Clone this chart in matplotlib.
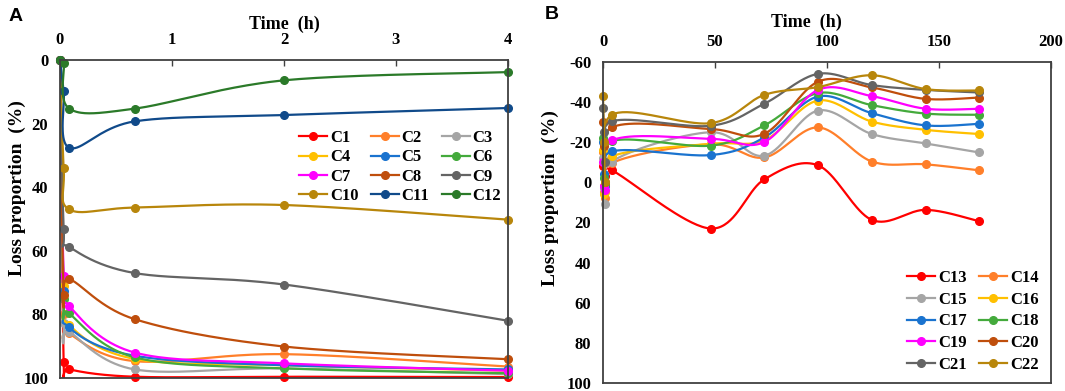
import numpy as np
import matplotlib
matplotlib.use("Agg")
import matplotlib.pyplot as plt
from matplotlib.lines import Line2D

plt.rcParams["axes.unicode_minus"] = False

# Panel A data (time in h, loss proportion in %)
time_a = [0, 0.033, 0.083, 0.667, 2, 4]
names_a = ["C1", "C2", "C3", "C4", "C5", "C6", "C7", "C8", "C9", "C10", "C11", "C12"]
values_a = [
    [0, 94.9, 97.3, 99.6, 99.6, 99.7],
    [0, 80.0, 86.0, 94.7, 92.5, 96.4],
    [0, 82.6, 85.4, 97.3, 97.0, 98.8],
    [0, 71.0, 83.3, 94.0, 96.0, 97.7],
    [0, 72.5, 84.1, 93.0, 96.0, 97.3],
    [0, 75.0, 79.7, 93.5, 97.0, 98.5],
    [0, 68.0, 77.4, 92.0, 95.4, 97.7],
    [0, 74.0, 68.9, 81.5, 90.1, 94.1],
    [0, 53.0, 58.8, 67.0, 70.6, 82.0],
    [0, 33.9, 47.0, 46.4, 45.6, 50.2],
    [0, 9.9, 27.6, 19.3, 17.3, 15.1],
    [0, 1.0, 15.3, 15.3, 6.4, 3.8],
]

# Panel B data
time_b = [0, 0.5, 1, 4, 48, 72, 96, 120, 144, 168]
names_b = ["C13", "C14", "C15", "C16", "C17", "C18", "C19", "C20", "C21", "C22"]
values_b = [
    [-8, 2, -3, -6.0, 23.0, -1.5, -8.5, 18.7, 13.7, 19.4],
    [-15, 5, 8, -9.6, -19.0, -12.4, -27.4, -10.4, -9.0, -6.0],
    [-12, 3, 11, -10.4, -25.0, -13.3, -35.8, -24.1, -19.4, -14.9],
    [-16, 6, 5, -12.9, -19.2, -21.0, -40.8, -30.3, -26.2, -24.1],
    [-20, -4, 2, -15.4, -13.6, -22.4, -42.8, -34.5, -28.4, -29.2],
    [-22, -2, 1, -20.5, -18.3, -28.4, -44.5, -38.5, -34.3, -33.7],
    [-10, 2, 4, -20.9, -21.7, -20.1, -46.1, -43.0, -36.7, -36.7],
    [-30, -18, 0, -27.4, -26.6, -24.2, -50.2, -47.3, -41.6, -42.3],
    [-37, -25, -10, -30.4, -28.2, -39.2, -54.1, -48.5, -46.1, -44.8],
    [-43, -20, 0, -33.7, -29.5, -43.6, -47.5, -53.4, -46.5, -45.8],
]

colors = ["#FF0000", "#FF7F2A", "#A5A5A5", "#FFC000", "#1A73CF", "#44AA3C",
          "#FF00FF", "#BF4E0C", "#646464", "#B8860B", "#104A8A", "#2B7A29"]

serif = "Liberation Serif"


def smooth(ax, x, y, n=40):
    # Excel-like smoothed line: Bezier through points, built in display space
    pts = ax.transData.transform(np.column_stack([x, y]))
    P = np.vstack([pts[0], pts, pts[-1]])
    segs = []
    t = np.linspace(0, 1, n)[:, None]
    for i in range(len(pts) - 1):
        p0, p1, p2, p3 = P[i], P[i + 1], P[i + 2], P[i + 3]
        c1 = p1 + (p2 - p0) / 6
        c2 = p2 - (p3 - p1) / 6
        segs.append((1 - t) ** 3 * p1 + 3 * (1 - t) ** 2 * t * c1
                    + 3 * (1 - t) * t ** 2 * c2 + t ** 3 * p2)
    curve = ax.transData.inverted().transform(np.vstack(segs))
    return curve[:, 0], curve[:, 1]


def style_axes(ax, xticks, yticks):
    ax.xaxis.tick_top()
    ax.xaxis.set_label_position("top")
    ax.set_xticks(xticks)
    ax.set_yticks(yticks)
    ax.tick_params(axis="x", direction="in", length=4, width=1, pad=9, colors="#404040")
    ax.tick_params(axis="y", length=0, pad=8.5)
    for lab in ax.get_xticklabels() + ax.get_yticklabels():
        lab.set_fontfamily(serif)
        lab.set_fontweight("bold")
        lab.set_fontsize(12)
        lab.set_color("black")
    for sp in ax.spines.values():
        sp.set_color("#404040")
        sp.set_linewidth(1.3)


W, H = 1065, 391
fig = plt.figure(figsize=(W / 100, H / 100), dpi=100)


def px_axes(left, top, right, bottom):
    return fig.add_axes([left / W, 1 - bottom / H, (right - left) / W, (bottom - top) / H])


leg_props = {"family": serif, "weight": "bold", "size": 12}
xlabel_font = dict(fontfamily=serif, fontweight="bold", fontsize=13)
ylabel_font = dict(fontfamily=serif, fontweight="bold", fontsize=14)

# ---- Panel A ----
axA = px_axes(60, 60, 508, 378)
axA.set_xlim(0, 4)
axA.set_ylim(100, 0)
style_axes(axA, [0, 1, 2, 3, 4], [0, 20, 40, 60, 80, 100])
for vals, c in zip(values_a, colors):
    sx, sy = smooth(axA, time_a, vals)
    axA.plot(sx, sy, color=c, lw=1.6)
    axA.plot(time_a, vals, "o", color=c, ms=5.5, clip_on=False)
axA.set_xlabel("Time  (h)", **xlabel_font)
axA.xaxis.set_label_coords(0.5, 1.097)
axA.set_ylabel("Loss proportion  (%)", **ylabel_font)
axA.yaxis.set_label_coords(-0.076, (378 - 188) / 318)

handles_a = [Line2D([], [], color=c, marker="o", ms=5.5, lw=1.6) for c in colors]
order_a = [0, 3, 6, 9, 1, 4, 7, 10, 2, 5, 8, 11]
fig.legend([handles_a[i] for i in order_a], [names_a[i] for i in order_a],
           ncol=3, loc="upper left", bbox_to_anchor=(299 / W, 1 - 130 / H),
           frameon=False, borderpad=0, borderaxespad=0, handlelength=1.7,
           handletextpad=0.15, columnspacing=0.75, labelspacing=0.2, prop=leg_props)

# ---- Panel B ----
axB = px_axes(603, 62, 1051, 383)
axB.set_xlim(0, 200)
axB.set_ylim(100, -60)
style_axes(axB, [0, 50, 100, 150, 200], [-60, -40, -20, 0, 20, 40, 60, 80, 100])
for vals, c in zip(values_b, colors[:10]):
    sx, sy = smooth(axB, time_b, vals)
    axB.plot(sx, sy, color=c, lw=1.6)
    axB.plot(time_b, vals, "o", color=c, ms=5.5, clip_on=False)
axB.set_xlabel("Time  (h)", **xlabel_font)
axB.xaxis.set_label_coords(0.455, 1.11)
axB.set_ylabel("Loss proportion  (%)", **ylabel_font)
axB.yaxis.set_label_coords(-0.098, (383 - 198) / 321)

handles_b = [Line2D([], [], color=c, marker="o", ms=5.5, lw=1.6) for c in colors[:10]]
order_b = [0, 2, 4, 6, 8, 1, 3, 5, 7, 9]
fig.legend([handles_b[i] for i in order_b], [names_b[i] for i in order_b],
           ncol=2, loc="upper left", bbox_to_anchor=(907 / W, 1 - 270 / H),
           frameon=False, borderpad=0, borderaxespad=0, handlelength=1.7,
           handletextpad=0.15, columnspacing=0.75, labelspacing=0.34, prop=leg_props)

# panel letters
fig.text(9 / W, 1 - 21 / H, "A", fontfamily="Liberation Sans", fontweight="bold", fontsize=14)
fig.text(545 / W, 1 - 19 / H, "B", fontfamily="Liberation Sans", fontweight="bold", fontsize=14)

fig.savefig("out.png", dpi=100)
